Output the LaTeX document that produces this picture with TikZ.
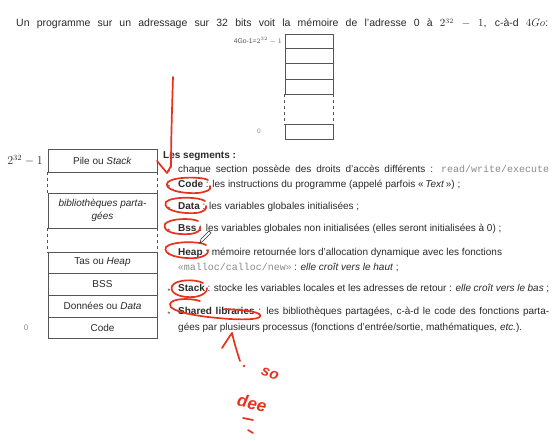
\documentclass[tikz,border=0pt]{standalone}
\usepackage{fontspec}
\setmainfont{Liberation Sans}
\setmonofont{Liberation Mono}
\definecolor{ink}{HTML}{2A2A2A}
\definecolor{frame}{HTML}{555555}
\definecolor{pen}{HTML}{E8321E}
\definecolor{ttgray}{HTML}{8A8A8A}
\begin{document}
\begin{tikzpicture}[x=1pt,y=-1pt,
  cell/.style={draw=frame, line width=0.6pt, minimum width=109pt, inner sep=0pt, font=\fontsize{10}{11.5}\selectfont, text=ink, align=center},
  opencell/.style={cell, draw=none},
  scell/.style={draw=frame, line width=0.6pt, minimum width=48pt, inner sep=0pt},
  sopen/.style={scell, draw=none},
  dashside/.style={draw=frame, line width=0.6pt, dash pattern=on 3.5pt off 2.5pt},
  txt/.style={anchor=base west, inner sep=0pt, text=ink, font=\fontsize{10}{11}\selectfont},
  bul/.style={anchor=base, inner sep=0pt, text=ink, font=\fontsize{6}{7}\selectfont},
  lbl/.style={inner sep=0pt, text=ink},
  redmark/.style={draw=pen, line width=1.7pt, line cap=round, line join=round},
  redtxt/.style={text=pen, inner sep=0pt, font=\fontsize{15}{15}\selectfont\bfseries\itshape}
]
\useasboundingbox[fill=white] (0,0) rectangle (557,441);

% top sentence
\node[txt, font=\fontsize{10.5}{12}\selectfont] (intro) at (16,27)
  {\makebox[532pt][s]{Un programme sur un adressage sur 32 bits voit la mémoire de l'adresse 0 à $2^{32}\,-\,1$, c-à-d $4Go$:}};

% small memory table
\node[scell, minimum height=14pt] (s1) at (309,41) {};
\node[scell, minimum height=15pt] (s2) at (309,55.5) {};
\node[scell, minimum height=16pt] (s3) at (309,71) {};
\node[scell, minimum height=15pt] (s4) at (309,86.5) {};
\node[sopen, minimum height=30pt] (s5) at (309,109) {};
\node[scell, minimum height=15pt] (s6) at (309,131.5) {};
\draw[dashside] (s5.north west) -- (s5.south west);
\draw[dashside] (s5.north east) -- (s5.south east);
\node[lbl, anchor=east, font=\fontsize{6.8}{7}\selectfont, text=ink!80] (stop) at (282,41) {4Go-1=$2^{32}-1$};
\node[lbl, font=\fontsize{6.5}{7}\selectfont, text=ttgray] (szero) at (259,131) {0};

% left memory table
\node[cell, minimum height=23pt] (r1) at (102.5,160.5) {Pile ou \textit{Stack}};
\node[opencell, minimum height=21pt] (r2) at (102.5,182.5) {};
\node[cell, minimum height=35pt] (r3) at (102.5,210.5) {\textit{bibliothèques parta-}\\[2pt]\textit{gées}};
\node[opencell, minimum height=24pt] (r4) at (102.5,240) {};
\node[cell, minimum height=21pt] (r5) at (102.5,262.5) {Tas ou \textit{Heap}};
\node[cell, minimum height=22pt] (r6) at (102.5,284) {BSS};
\node[cell, minimum height=22pt] (r7) at (102.5,306) {Données ou \textit{Data}};
\node[cell, minimum height=21pt] (r8) at (102.5,327.5) {Code};
\draw[dashside] (r2.north west) -- (r2.south west);
\draw[dashside] (r2.north east) -- (r2.south east);
\draw[dashside] (r4.north west) -- (r4.south west);
\draw[dashside] (r4.north east) -- (r4.south east);
\node[lbl, font=\fontsize{11.5}{12}\selectfont] (ltop) at (25,160.5) {$2^{32}-1$};
\node[lbl, font=\fontsize{8}{9}\selectfont, text=ttgray] (lzero) at (26,327.5) {0};

% segment list
\node[txt] (hdr) at (163,159) {\textbf{Les segments :}};
\node[bul] (b0) at (169,172) {$\star$};
\node[txt] (t0) at (178,172) {\makebox[371pt][s]{chaque section possède des droits d'accès différents : {\color{ttgray}\texttt{read/write/execute}}}};
\node[bul] (b1) at (169,187.5) {$\star$};
\node[txt] (t1) at (178,187.5) {\textbf{Code} : les instructions du programme (appelé parfois «\,\textit{Text}\,») ;};
\node[bul] (b2) at (169,209.5) {$\star$};
\node[txt] (t2) at (178,209.5) {\textbf{Data} : les variables globales initialisées ;};
\node[bul] (b3) at (169,231.5) {$\star$};
\node[txt] (t3) at (178,231.5) {\textbf{Bss} : les variables globales non initialisées (elles seront initialisées à 0) ;};
\node[bul] (b4) at (169,255.5) {$\star$};
\node[txt] (t4) at (178,255.5) {\textbf{Heap} : mémoire retournée lors d'allocation dynamique avec les fonctions};
\node[txt] (t4b) at (178,270) {{\color{ttgray}«\texttt{malloc/calloc/new}»} : \textit{elle croît vers le haut} ;};
\node[bul] (b5) at (169,291.5) {$\star$};
\node[txt] (t5) at (178,291.5) {\makebox[371pt][s]{\textbf{Stack} : stocke les variables locales et les adresses de retour : \textit{elle croît vers le bas} ;}};
\node[bul] (b6) at (169,314.5) {$\star$};
\node[txt] (t6) at (178,314.5) {\makebox[371pt][s]{\textbf{Shared libraries} : les bibliothèques partagées, c-à-d le code des fonctions parta-}};
\node[txt] (t6b) at (178,330.5) {gées par plusieurs processus (fonctions d'entrée/sortie, mathématiques, \textit{etc.}).};

% red handwritten annotations
\draw[redmark] (173,77) .. controls (172,110) and (171,140) .. (171,167);
\draw[redmark] (157,161) -- (167,173) -- (171,166);
\draw[redmark] (208,180) .. controls (204,177) and (175,176) .. (168,182) .. controls (162,189) and (180,194) .. (198,193) .. controls (206,192) and (212,190) .. (210,186);
\draw[redmark] (205,201) .. controls (200,197) and (172,196) .. (166,202) .. controls (162,210) and (180,214) .. (196,213) .. controls (204,212) and (207,209) .. (206,206);
\draw[redmark] (198,221) .. controls (192,218) and (170,218) .. (165,224) .. controls (162,232) and (176,235) .. (190,234) .. controls (198,233) and (201,230) .. (200,227);
\draw[redmark] (206,245) .. controls (200,241) and (172,241) .. (166,247) .. controls (162,255) and (180,259) .. (196,258) .. controls (204,257) and (209,254) .. (208,250);
\draw[redmark] (203,283) .. controls (196,279) and (176,279) .. (172,286) .. controls (169,294) and (182,298) .. (194,297) .. controls (202,296) and (208,292) .. (207,288);
\draw[redmark] (200,301) .. controls (190,298) and (172,298) .. (170,304) .. controls (168,312) and (200,317) .. (230,319) .. controls (250,320) and (262,319) .. (260,315) .. controls (258,311) and (240,310) .. (225,309);
\draw[redmark] (222,348) .. controls (226,342) and (229,337) .. (232,333) .. controls (234,342) and (237,352) .. (240,361);
\fill[pen] (244,366) circle (1.4pt);
\node[redtxt, rotate=-20] (hw1) at (270,374) {so};
\node[redtxt, rotate=-12, font=\fontsize{17}{17}\selectfont\bfseries\itshape] (hw2) at (252,403) {dee};
\draw[redmark] (243,418) -- (253,420);
\draw[redmark] (248,430) -- (253,433);

% pen cursor
\draw[ink, line width=0.5pt] (200,243) -- (201,239) -- (209,231) -- (211,233) -- (203,241) -- cycle;
\end{tikzpicture}
\end{document}
